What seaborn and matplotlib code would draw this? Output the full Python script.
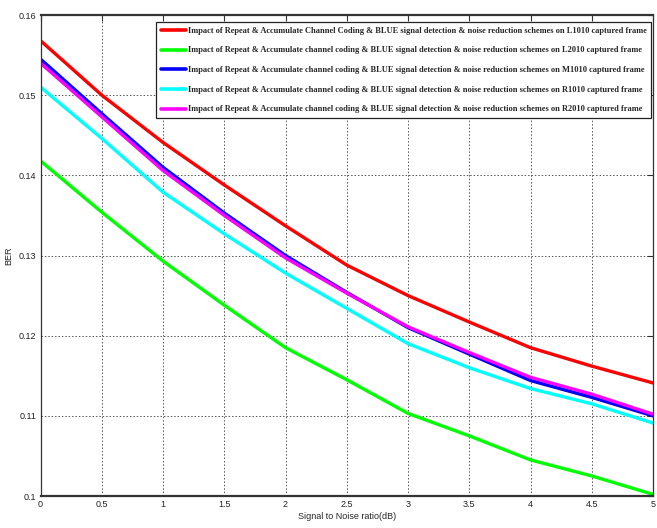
import pandas as pd
import seaborn as sns
import matplotlib.pyplot as plt

snr = [0, 0.5, 1, 1.5, 2, 2.5, 3, 3.5, 4, 4.5, 5]

ber_l1010 = [0.1568, 0.1500, 0.1441, 0.1388, 0.1337, 0.1288, 0.1250, 0.1217, 0.1185, 0.1162, 0.1141]
ber_l2010 = [0.1418, 0.1354, 0.1293, 0.1238, 0.1185, 0.1145, 0.1103, 0.1075, 0.1045, 0.1025, 0.1002]
ber_m1010 = [0.1545, 0.1477, 0.1410, 0.1353, 0.1300, 0.1254, 0.1210, 0.1177, 0.1144, 0.1123, 0.1100]
ber_r1010 = [0.1510, 0.1446, 0.1379, 0.1327, 0.1278, 0.1234, 0.1190, 0.1160, 0.1134, 0.1115, 0.1091]
ber_r2010 = [0.1540, 0.1473, 0.1406, 0.1350, 0.1297, 0.1253, 0.1211, 0.1179, 0.1148, 0.1127, 0.1102]

labels = [
    "Impact of Repeat & Accumulate Channel Coding & BLUE signal detection & noise reduction schemes on L1010 captured frame",
    "Impact of Repeat & Accumulate channel coding & BLUE signal detection & noise reduction schemes on L2010 captured frame",
    "Impact of Repeat & Accumulate channel coding & BLUE signal detection & noise reduction schemes on M1010 captured frame",
    "Impact of Repeat & Accumulate channel coding & BLUE signal detection & noise reduction schemes on R1010 captured frame",
    "Impact of Repeat & Accumulate channel coding & BLUE signal detection & noise reduction schemes on R2010 captured frame",
]
colors = ["#ff0000", "#00ff00", "#0000ff", "#00ffff", "#ff00ff"]
series = [ber_l1010, ber_l2010, ber_m1010, ber_r1010, ber_r2010]

rows = []
for lab, vals in zip(labels, series):
    for x, y in zip(snr, vals):
        rows.append({"snr": x, "ber": y, "frame": lab})
df = pd.DataFrame(rows)

sns.set_style("white")
plt.rcParams["font.family"] = ["Liberation Sans", "DejaVu Sans"]

fig = plt.figure(figsize=(6.57, 5.28), dpi=100)
ax = fig.add_axes([40.5 / 657, 32 / 528, 612.5 / 657, 481 / 528])

sns.lineplot(data=df, x="snr", y="ber", hue="frame", palette=colors,
             linewidth=2.4, ax=ax, sort=False)

ax.set_xlim(0, 5)
ax.set_ylim(0.1, 0.16)
ax.set_xticks(snr)
ax.set_xticklabels(["0", "0.5", "1", "1.5", "2", "2.5", "3", "3.5", "4", "4.5", "5"])
ax.set_yticks([0.1, 0.11, 0.12, 0.13, 0.14, 0.15, 0.16])
ax.set_yticklabels(["0.1", "0.11", "0.12", "0.13", "0.14", "0.15", "0.16"])
ax.tick_params(axis="both", direction="in", length=4, width=0.8, labelsize=6.5,
               top=True, right=True, colors="#333333", labelcolor="#222222", pad=3)
ax.grid(True, linestyle=(0, (1.5, 2)), color="#555555", linewidth=0.7)
for s in ax.spines.values():
    s.set_color("#333333")
    s.set_linewidth(0.9)
ax.spines["bottom"].set_linewidth(1.6)
ax.spines["top"].set_linewidth(1.6)

ax.set_xlabel("Signal to Noise ratio(dB)", fontsize=6.5, labelpad=2)
ax.set_ylabel("BER", fontsize=6.5, labelpad=4)

leg = ax.legend(loc="upper right", bbox_to_anchor=(0.997, 0.985), frameon=True,
                fancybox=False, framealpha=1, edgecolor="#222222",
                prop={"family": "Liberation Serif", "weight": "bold", "size": 6.0},
                handlelength=3.0, labelspacing=1.4, borderpad=0.55, handletextpad=0.2,
                borderaxespad=0)
leg.get_frame().set_linewidth(0.9)
for h in leg.get_lines():
    h.set_linewidth(2.6)

plt.savefig("out.png", dpi=100)
